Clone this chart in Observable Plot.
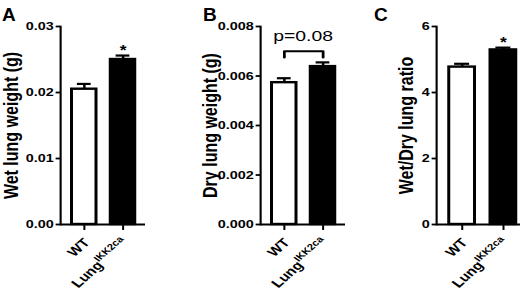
<!DOCTYPE html>
<html><head><meta charset="utf-8">
<script src="https://cdn.jsdelivr.net/npm/d3@7"></script>
<script src="https://cdn.jsdelivr.net/npm/@observablehq/plot@0.6"></script>
<style>
html,body{margin:0;padding:0;background:#fff;overflow:hidden;width:520px;height:299px;}
#fig{position:relative;width:520px;height:299px;font-family:Arial,"Liberation Sans",sans-serif;overflow:hidden;}
.panel{position:absolute;top:0;}
.panel svg text{font-family:Arial,"Liberation Sans",sans-serif;fill:#000;}
.panel g[aria-label="y-axis tick label"]{font-size:11.5px;font-weight:bold;}
.letter{position:absolute;top:5px;font-weight:bold;font-size:19px;line-height:19px;color:#000;}
</style></head><body><div id="fig"></div>
<script>
// ---- data ----
const groups = ["WT", "Lung"];
const superscript = "IKK2ca";
const wetMean = [0.0205, 0.0250];
const wetSem = [0.0008, 0.0006];
const dryMean = [0.00573, 0.00638];
const drySem = [0.00018, 0.00017];
const ratioMean = [4.77, 5.29];
const ratioSem = [0.10, 0.07];
const wetTicks = [0, 0.01, 0.02, 0.03];
const dryTicks = [0, 0.002, 0.004, 0.006, 0.008];
const ratioTicks = [0, 2, 4, 6];
const panelLetters = ["A", "B", "C"];
const yTitles = ["Wet lung weight (g)", "Dry lung weight (g)", "Wet/Dry lung ratio"];
const starGroups = ["Lung"];
const pLabel = "p=0.08";
const bracketGroups = ["WT", "Lung"];

const SX = 1.25; // the figure is horizontally stretched
const fig = document.getElementById("fig");
const NS = "http://www.w3.org/2000/svg";

function panel({left, mean, sem, ticks, fmt, title, titleOffset, stars, bracket, marginRight = 4}) {
  const rows = groups.map((g, i) => ({g, mean: mean[i], sem: sem[i], top: mean[i] + sem[i]}));
  const ymax = ticks[ticks.length - 1];
  const W = 120;
  const marks = [
    Plot.barY(rows, {x: "g", y: "mean", fill: d => d.g === "WT" ? "white" : "black",
      stroke: "black", strokeWidth: 2.4, insetLeft: 1.2, insetRight: 1.2}),
    Plot.ruleX(rows, {x: "g", y1: "mean", y2: "top", stroke: "black", strokeWidth: 2}),
    Plot.tickY(rows, {x: "g", y: "top", stroke: "black", strokeWidth: 2.2, insetLeft: 5.5, insetRight: 5.5}),
    Plot.ruleY([0], {stroke: "black", strokeWidth: 2}),
    Plot.frame({anchor: "left", stroke: "black", strokeWidth: 1.7}),
    Plot.axisY({ticks, tickFormat: fmt, tickSize: 3.5, tickPadding: 2, fontSize: 11.5, fontWeight: "bold", strokeWidth: 1.8, label: null}),
    Plot.axisX({tickSize: 6, strokeWidth: 1.6, text: null, label: null}),
    Plot.text(rows, {x: "g", text: "g", frameAnchor: "bottom", dy: 16, dx: 2, rotate: -48,
      textAnchor: "end", lineAnchor: "middle", fontSize: 12.5, fontWeight: "bold"}),
    Plot.text([title], {frameAnchor: "left", dx: -titleOffset, rotate: -90, textAnchor: "middle", fontSize: 16, fontWeight: "bold"})
  ];
  if (stars) {
    marks.push(Plot.text(rows.filter(d => stars.includes(d.g)), {x: "g", y: "top", text: () => "*",
      lineAnchor: "bottom", dy: -1, fontSize: 14, fontWeight: "bold"}));
  }
  if (bracket) {
    const [lo, hi] = bracket.ys;
    const path = [
      {g: bracket.groups[0], v: lo}, {g: bracket.groups[0], v: hi},
      {g: bracket.groups[1], v: hi}, {g: bracket.groups[1], v: lo}
    ];
    marks.push(Plot.line(path, {x: "g", y: "v", stroke: "black", strokeWidth: 2.2, curve: "linear"}));
    marks.push(Plot.text([bracket.label], {frameAnchor: "middle", y: bracket.textY, lineAnchor: "bottom",
      fontSize: 15.5, fontWeight: "normal"}));
  }
  const svg = Plot.plot({
    width: W, height: 299,
    marginLeft: 48, marginRight, marginTop: 26, marginBottom: 75,
    x: {domain: groups, padding: 0.3, paddingOuter: 0.22, align: 0.55},
    y: {domain: [0, ymax]},
    style: {fontFamily: "Arial, 'Liberation Sans', sans-serif", color: "black", background: "transparent", overflow: "visible", maxWidth: "none"},
    marks
  });
  // superscript on the "Lung" tick label
  svg.querySelectorAll("text").forEach(t => {
    if (t.textContent === "Lung") {
      const ts = document.createElementNS(NS, "tspan");
      ts.setAttribute("font-size", "9");
      ts.setAttribute("dy", "-5.5");
      ts.textContent = superscript;
      t.appendChild(ts);
    }
  });
  // horizontal stretch done inside the SVG (vector, not bitmap)
  const wrap = document.createElementNS(NS, "g");
  wrap.setAttribute("transform", `scale(${SX},1)`);
  [...svg.childNodes].forEach(n => { if (n.nodeName.toLowerCase() !== "style") wrap.appendChild(n); });
  svg.appendChild(wrap);
  svg.setAttribute("width", W * SX);
  svg.setAttribute("viewBox", `0 0 ${W * SX} 299`);
  const div = document.createElement("div");
  div.className = "panel";
  div.style.left = (left * SX) + "px";
  div.appendChild(svg);
  fig.appendChild(div);
}

panel({left: 0, mean: wetMean, sem: wetSem, ticks: wetTicks, fmt: d3.format(".2f"),
  title: yTitles[0], titleOffset: 39.5, stars: starGroups});
panel({left: 160, mean: dryMean, sem: drySem, ticks: dryTicks, fmt: d3.format(".3f"),
  title: yTitles[1], titleOffset: 40, bracket: {groups: bracketGroups, ys: [0.00675, 0.0070], textY: 0.0074, label: pLabel}});
panel({left: 300.8, mean: ratioMean, sem: ratioSem, ticks: ratioTicks, fmt: d3.format("d"),
  title: yTitles[2], titleOffset: 24, stars: starGroups, marginRight: 0});

const letterX = [2, 203, 374];
panelLetters.forEach((L, i) => {
  const d = document.createElement("div");
  d.className = "letter";
  d.style.left = letterX[i] + "px";
  d.textContent = L;
  fig.appendChild(d);
});
</script></body></html>
